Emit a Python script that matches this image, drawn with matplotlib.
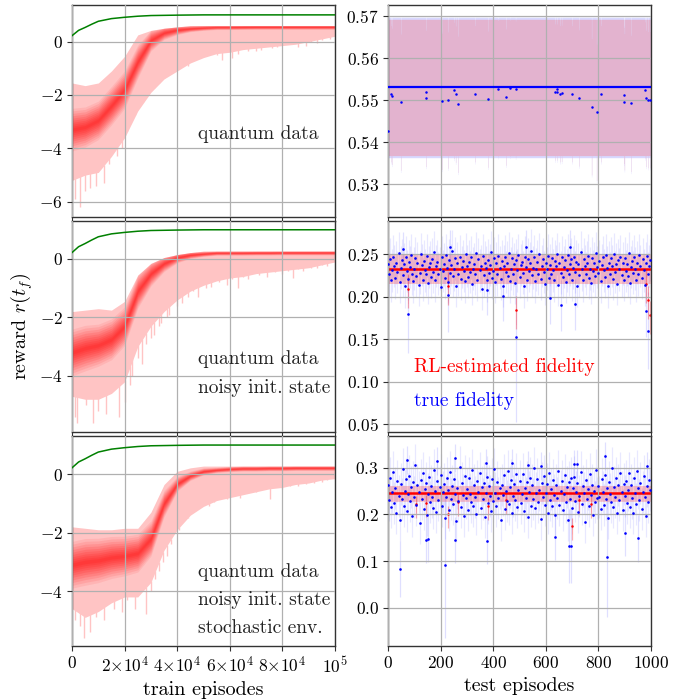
import numpy as np
import matplotlib
matplotlib.use("Agg")
import matplotlib.pyplot as plt

plt.rcParams['font.family'] = 'serif'
plt.rcParams['font.serif'] = ['cmr10']
plt.rcParams['mathtext.fontset'] = 'cm'
plt.rcParams['axes.formatter.use_mathtext'] = True
plt.rcParams['axes.unicode_minus'] = True

# ---------------- training data (left column) ----------------
train_x = [0, 5e3, 10e3, 15e3, 20e3, 25e3, 30e3, 35e3, 40e3, 45e3, 50e3,
           55e3, 60e3, 65e3, 70e3, 75e3, 80e3, 85e3, 90e3, 95e3, 100e3]

green_x = [0, 2.5e3, 5e3, 7.5e3, 10e3, 15e3, 20e3, 25e3, 30e3, 40e3, 50e3, 100e3]
green_y = [0.22, 0.42, 0.53, 0.65, 0.76, 0.86, 0.91, 0.95, 0.975, 0.99, 1.0, 1.0]

# panel 1: quantum data
p1_mid = [-3.3, -3.2, -2.95, -2.4, -1.8, -0.75, 0.05, 0.33, 0.44, 0.49, 0.52,
          0.54, 0.54, 0.545, 0.55, 0.55, 0.55, 0.55, 0.55, 0.55, 0.55]
p1_hw = [0.8, 0.75, 0.72, 0.72, 0.7, 0.62, 0.4, 0.25, 0.18, 0.12, 0.1,
         0.09, 0.09, 0.09, 0.09, 0.09, 0.09, 0.09, 0.09, 0.09, 0.09]
p1_hi = [-1.55, -1.65, -1.55, -1.1, -0.55, 0.25, 0.42, 0.5, 0.55, 0.6, 0.6,
         0.6, 0.6, 0.6, 0.6, 0.6, 0.6, 0.6, 0.6, 0.6, 0.6]
p1_lo = [-5.2, -5.0, -4.9, -4.3, -3.6, -2.6, -1.9, -1.4, -1.1, -0.8, -0.6,
         -0.45, -0.4, -0.3, -0.25, -0.2, -0.15, -0.1, 0.0, 0.1, 0.2]
p1_spk_x = [1e3, 3e3, 5e3, 7e3, 9e3, 12e3, 14e3, 17e3, 19e3, 21e3, 23e3, 24e3,
            26e3, 27e3, 29e3, 31e3, 33e3, 35e3, 37e3, 39e3, 42e3, 44e3, 46e3,
            48e3, 50e3, 52e3, 55e3, 57e3, 59e3, 61e3, 63e3, 65e3, 67e3, 70e3,
            72e3, 74e3, 76e3, 78e3, 81e3, 83e3, 86e3, 89e3, 91e3, 93e3, 95e3, 98e3]
p1_spk_y = [-5.9, -6.2, -5.6, -5.5, -5.4, -5.3, -4.6, -4.3, -4.0, -3.0, -2.8, -2.4,
            -2.2, -2.0, -1.8, -1.6, -1.4, -1.3, -1.1, -1.0, -0.8, -0.9, -0.7,
            -0.6, -0.55, -0.45, -0.5, -0.7, -0.4, -0.6, -0.45, -0.2, -0.35, -0.35,
            -0.3, -0.1, -0.25, -0.2, -0.05, -0.1, -0.2, -0.15, 0.0, -0.05, 0.05, 0.1]

# panel 2: noisy init. state
p2_mid = [-3.2, -3.05, -2.95, -2.75, -2.3, -1.1, -0.5, -0.15, 0.05, 0.14, 0.18,
          0.21, 0.21, 0.21, 0.215, 0.215, 0.22, 0.22, 0.22, 0.22, 0.22]
p2_hw = [0.8, 0.78, 0.72, 0.7, 0.66, 0.58, 0.42, 0.28, 0.18, 0.12, 0.09,
         0.08, 0.08, 0.08, 0.08, 0.08, 0.08, 0.08, 0.08, 0.08, 0.08]
p2_hi = [-1.8, -1.75, -1.7, -1.75, -1.45, -0.55, -0.15, 0.05, 0.15, 0.22, 0.27,
         0.27, 0.27, 0.27, 0.27, 0.27, 0.27, 0.27, 0.27, 0.27, 0.27]
p2_lo = [-4.7, -4.8, -4.8, -4.6, -4.2, -3.0, -2.3, -1.8, -1.4, -1.1, -0.9,
         -0.75, -0.65, -0.6, -0.5, -0.45, -0.4, -0.35, -0.3, -0.2, -0.1]
p2_spk_x = [1e3, 2e3, 5.5e3, 8e3, 10e3, 13e3, 15e3, 18e3, 20e3, 22e3, 23e3, 25e3,
            26.5e3, 28e3, 30e3, 31e3, 33e3, 34e3, 36e3, 37e3, 40e3, 42e3, 44e3,
            46e3, 48e3, 51e3, 53e3, 56e3, 59e3, 61e3, 63e3, 65e3, 67e3, 71e3,
            74e3, 77e3, 80e3, 82e3, 84e3, 86e3, 88e3, 91e3, 93e3, 95e3, 97e3]
p2_spk_y = [-5.4, -5.6, -5.0, -5.6, -5.2, -5.3, -4.5, -5.4, -4.9, -4.3, -4.0, -3.4,
            -3.6, -2.9, -2.7, -2.6, -2.3, -2.2, -2.0, -1.9, -1.6, -1.5, -1.3,
            -1.1, -1.3, -1.0, -0.95, -0.8, -0.9, -0.7, -1.0, -0.6, -0.7, -0.55,
            -0.6, -0.45, -0.5, -0.4, -0.65, -0.35, -0.4, -0.3, -0.3, -0.2, -0.25]

# panel 3: noisy init. state + stochastic env.
p3_mid = [-3.1, -3.0, -2.95, -2.85, -2.8, -2.7, -2.2, -1.0, -0.33, -0.05, 0.1,
          0.15, 0.18, 0.2, 0.2, 0.21, 0.21, 0.22, 0.22, 0.22, 0.22]
p3_hw = [0.8, 0.8, 0.76, 0.72, 0.68, 0.65, 0.6, 0.45, 0.25, 0.16, 0.12,
         0.09, 0.09, 0.09, 0.09, 0.09, 0.09, 0.09, 0.09, 0.09, 0.09]
p3_hi = [-1.8, -1.85, -1.9, -1.9, -1.85, -1.85, -1.3, -0.35, 0.1, 0.22, 0.28,
         0.28, 0.28, 0.28, 0.28, 0.28, 0.28, 0.28, 0.28, 0.28, 0.28]
p3_lo = [-4.6, -4.9, -4.7, -4.4, -4.2, -4.2, -3.7, -2.6, -1.9, -1.4, -1.1,
         -0.9, -0.8, -0.7, -0.6, -0.5, -0.45, -0.35, -0.3, -0.2, -0.15]
p3_spk_x = [1e3, 3e3, 4.5e3, 7e3, 9e3, 12e3, 16e3, 19e3, 21e3, 24e3, 28e3,
            30e3, 31.5e3, 33e3, 34.5e3, 36e3, 37.5e3, 39e3, 40.5e3, 42e3, 44e3,
            46e3, 48e3, 50e3, 52e3, 54e3, 57e3, 59e3, 62e3, 64e3, 67e3, 70e3,
            73e3, 75.3e3, 78e3, 80e3, 83e3, 86e3, 89e3, 92e3, 95e3, 97e3]
p3_spk_y = [-5.0, -5.2, -5.6, -5.4, -4.9, -5.0, -4.6, -4.7, -4.3, -4.6, -4.8,
            -4.0, -3.6, -3.3, -3.0, -2.8, -2.4, -2.0, -1.9, -1.6, -1.5,
            -1.3, -1.2, -1.0, -1.1, -0.95, -0.8, -0.85, -0.7, -0.8, -0.65, -0.6,
            -0.5, -0.85, -0.45, -0.5, -0.4, -0.4, -0.35, -0.3, -0.25, -0.2]

train_panels = [
    (p1_mid, p1_hw, p1_hi, p1_lo, p1_spk_x, p1_spk_y, (-6.57, 1.37), [-6, -4, -2, 0],
     ["quantum data"], [-3.63]),
    (p2_mid, p2_hw, p2_hi, p2_lo, p2_spk_x, p2_spk_y, (-5.92, 1.30), [-4, -2, 0],
     ["quantum data", "noisy init. state"], [-3.61, -4.6]),
    (p3_mid, p3_hw, p3_hi, p3_lo, p3_spk_x, p3_spk_y, (-5.88, 1.31), [-4, -2, 0],
     ["quantum data", "noisy init. state", "stochastic env."], [-3.51, -4.48, -5.45]),
]

train_xticks = [0, 2e4, 4e4, 6e4, 8e4, 1e5]
train_xticklabels = [r'$0$', r'$2{\times}10^{4}$', r'$4{\times}10^{4}$',
                     r'$6{\times}10^{4}$', r'$8{\times}10^{4}$', r'$10^{5}$']

# ---------------- test data (right column) ----------------
n_test = 1000
# panel 1: red and blue fidelity coincide; deviating episodes
t1_level = 0.553
t1_ep = [1, 11, 16, 48, 144, 144, 204, 229, 252, 257, 267, 332, 379, 418, 449,
         464, 485, 635, 644, 644, 654, 660, 700, 727, 774, 793, 810, 896, 899,
         924, 977, 981, 990, 996]
t1_val = [0.5427, 0.5515, 0.5509, 0.5495, 0.5520, 0.5504, 0.5497, 0.5500, 0.5523,
          0.5514, 0.5490, 0.5515, 0.5502, 0.5527, 0.5507, 0.5528, 0.5526, 0.5519,
          0.5519, 0.5527, 0.5515, 0.5516, 0.5515, 0.5505, 0.5484, 0.5471, 0.5515,
          0.5511, 0.5496, 0.5492, 0.5524, 0.5504, 0.5501, 0.5501]
t1_red_err = 0.0162
t1_blue_err = 0.0167

# panel 2
t2_red_level = 0.2324
t2_red_err = 0.017
t2_red_dip_ep = [77, 229, 486, 981, 990, 998]
t2_red_dip_val = [0.209, 0.212, 0.184, 0.215, 0.196, 0.178]
t2_blue = [238,226,244,219,231,247,236,222,240,229,251,217,234,243,225,238,212,246,230,221,241,235,249,227,218,
           233,245,224,239,214,228,250,237,220,242,231,226,248,216,235,240,223,244,229,252,219,236,241,227,233,
           211,246,230,238,222,249,234,217,243,228,237,253,224,232,245,213,239,226,247,221,235,242,230,218,250,
           236,223,241,229,246,215,233,238,227,251,220,244,231,236,209,248,225,240,234,219,243,228,237,252,222,
           230,245,217,239,226,248,234,221,242,213,236,247,229,240,224,251,218,233,245,227,238,216,243,231,249,
           223,237,241,228,212,246,235,220,244,230,239,254,225,234,247,218,232,241,227,250,221,236,244,229,215,
           240,233,248,222,237,226,245,231,219,242,236,250,214,239,228,246,223,235,243,217,231,249,226,238,244,
           220,234,247,229,241,213,238,225,252,232,219,244,236,227,240,248,222,233,216,245,230,239,224,251,235,
           228,242,218,237,246,231,223,249,234,212,240,227,245,236,221,250,229,238,215,243,232,247,225,239,220,
           245,230,238,224,251,216,235,242,228,247,233,219,240,226,249,236,222,244,231,214,239,248,227,236,243]
t2_blue_err = 0.025
t2_out_ep = [77, 229, 486, 990, 981, 657, 712, 616, 439, 375, 236, 525, 692, 58]
t2_out_val = [0.179, 0.202, 0.153, 0.160, 0.183, 0.190, 0.191, 0.198, 0.201, 0.208,
              0.258, 0.258, 0.258, 0.256]
t2_out_err = [0.045, 0.043, 0.10, 0.045, 0.03, 0.03, 0.03, 0.03, 0.03, 0.03,
              0.02, 0.02, 0.02, 0.02]

# panel 3
t3_red_level = 0.245
t3_red_err = 0.017
t3_red_dip_ep = [106, 145, 229, 267, 379, 449, 701, 727, 771]
t3_red_dip_val = [0.222, 0.225, 0.200, 0.227, 0.218, 0.231, 0.175, 0.231, 0.222]
t3_blue = [262,231,278,215,248,290,224,256,203,271,240,188,265,232,297,219,251,276,207,244,283,228,259,196,270,
           237,305,221,262,248,181,274,233,289,212,255,267,199,243,281,226,260,238,214,296,250,205,272,231,258,
           285,219,247,266,192,238,278,252,209,291,234,261,223,275,244,186,257,229,302,216,268,241,197,283,236,
           254,210,279,243,226,295,218,263,237,201,272,249,288,214,258,232,267,194,245,281,225,261,239,207,276,
           229,298,246,217,270,235,256,189,264,242,284,211,250,228,293,222,259,273,204,240,266,231,287,215,252,
           271,224,243,286,208,257,236,269,195,248,279,218,262,234,300,213,245,276,227,253,191,268,238,282,221,
           246,265,203,289,230,255,217,274,241,198,263,236,294,220,251,272,209,243,284,226,258,187,269,233,277,
           214,257,280,229,247,268,206,239,291,222,260,245,183,273,232,255,218,286,241,264,199,250,227,296,235,
           261,238,212,275,249,220,284,233,256,193,270,244,226,299,215,258,237,278,204,262,231,289,247,210,266,
           240,271,225,253,288,216,264,235,202,279,246,223,292,257,230,268,211,249,283,238,196,261,227,274,252]
t3_blue_err = 0.045
t3_out_ep = [46, 217, 831, 145, 153, 375, 255, 689, 696, 635, 901, 952,
             74, 185, 255, 371, 473, 531, 580, 825, 708, 720, 983]
t3_out_val = [0.083, 0.091, 0.108, 0.146, 0.147, 0.144, 0.145, 0.132, 0.132, 0.152,
              0.161, 0.149, 0.316, 0.314, 0.320, 0.311, 0.311, 0.306, 0.304, 0.325,
              0.309, 0.309, 0.304]
t3_out_err = [0.06, 0.155, 0.127, 0.05, 0.05, 0.05, 0.05, 0.08, 0.08, 0.05,
              0.05, 0.05, 0.03, 0.03, 0.03, 0.03, 0.03, 0.03, 0.03, 0.03,
              0.03, 0.03, 0.03]

test_xticks = [0, 200, 400, 600, 800, 1000]

# ---------------- figure ----------------
W, H = 692, 700
fig = plt.figure(figsize=(W / 100, H / 100), dpi=100)

col_left = [72 / W, 388 / W]
col_w = 263 / W
rows = [(5, 217), (221, 432), (436, 646)]

PINK = '#ffc4c4'
GRID = '#b0b0b0'
SPINE = '#333333'


def style(ax):
    for s in ax.spines.values():
        s.set_color(SPINE)
        s.set_linewidth(1.0)
    ax.tick_params(direction='out', length=3.5, width=0.8, color=SPINE,
                   labelsize=12.5, pad=3)
    ax.grid(True, color=GRID, lw=0.9, zorder=2.5)
    ax.set_axisbelow(False)


axes_l, axes_r = [], []
for (top, bot) in rows:
    b = (H - bot) / H
    h = (bot - top) / H
    axes_l.append(fig.add_axes([col_left[0], b, col_w, h]))
    axes_r.append(fig.add_axes([col_left[1], b, col_w, h]))

# left column
core_layers = [(1.0, 0.08), (0.88, 0.09), (0.76, 0.10), (0.65, 0.11), (0.54, 0.11),
               (0.44, 0.12), (0.34, 0.12), (0.25, 0.12), (0.16, 0.12), (0.08, 0.12)]
for ax, (mid, hw, hi, lo, sx, sy, ylim, yt, texts, tys) in zip(axes_l, train_panels):
    mid = np.array(mid); hw = np.array(hw)
    ax.vlines(sx, sy, np.interp(sx, train_x, lo) + 0.05, color=PINK, lw=1.0, zorder=1)
    ax.fill_between(train_x, lo, hi, color=PINK, lw=0, zorder=1)
    for f, a in core_layers:
        ax.fill_between(train_x, np.maximum(mid - f * hw, lo), np.minimum(mid + f * hw, hi),
                        color='red', alpha=a, lw=0, zorder=2)
    ax.plot(green_x, green_y, color='green', lw=1.1, zorder=3)
    ax.set_xlim(0, 1e5)
    ax.set_ylim(*ylim)
    ax.set_yticks(yt)
    ax.set_xticks(train_xticks)
    style(ax)
    for t, ty in zip(texts, tys):
        ax.text(4.78e4, ty, t, fontsize=14, color='#222222', zorder=4)

for ax in axes_l[:2]:
    ax.set_xticklabels([])
axes_l[2].set_xticklabels(train_xticklabels)
axes_l[2].set_xlabel('train episodes', fontsize=14.5, labelpad=4)

# right column
ep_all = np.arange(n_test)

# panel 1
ax = axes_r[0]
v1 = np.full(n_test, t1_level)
for e, v in zip(t1_ep, t1_val):
    v1[e] = min(v1[e], v)
ax.fill_between(ep_all, v1 - t1_blue_err, v1 + t1_blue_err, color='#d8d8ff', lw=0,
                step='mid', zorder=1)
ax.fill_between(ep_all, v1 - t1_red_err, v1 + t1_red_err, color='#e3b3cf', lw=0,
                step='mid', zorder=1.5)
ax.plot(ep_all, np.full(n_test, t1_level), color='blue', lw=1.6, zorder=3)
ax.plot(t1_ep, t1_val, 'o', color='blue', ms=1.8, mew=0, zorder=3)
ax.set_ylim(0.5222, 0.5726)
ax.set_yticks([0.53, 0.54, 0.55, 0.56, 0.57])

# panel 2
ax = axes_r[1]
x2 = np.arange(0, n_test, 4)
b2 = np.array(t2_blue) / 1000.0
ax.vlines(x2, b2 - t2_blue_err, b2 + t2_blue_err, color='#8080ff', alpha=0.18, lw=0.9, zorder=1)
ax.vlines(t2_out_ep, np.array(t2_out_val) - np.array(t2_out_err),
          np.array(t2_out_val) + np.array(t2_out_err), color='#8080ff', alpha=0.25, lw=0.9, zorder=1)
r2 = np.full(n_test, t2_red_level)
for e, v in zip(t2_red_dip_ep, t2_red_dip_val):
    r2[e] = v
ax.fill_between(ep_all, r2 - t2_red_err, r2 + t2_red_err, color='red', alpha=0.22, lw=0,
                step='mid', zorder=1.5)
ax.vlines(t2_red_dip_ep, np.array(t2_red_dip_val) - 0.022, np.array(t2_red_dip_val) + 0.017,
          color='red', alpha=0.3, lw=0.9, zorder=1.5)
ax.plot(ep_all, np.full(n_test, t2_red_level), color='red', lw=1.8, zorder=2)
ax.plot(t2_red_dip_ep, t2_red_dip_val, 'o', color='red', ms=1.8, mew=0, zorder=2)
ax.plot(x2, b2, 'o', color='blue', ms=1.9, mew=0, zorder=3)
ax.plot(t2_out_ep, t2_out_val, 'o', color='blue', ms=1.9, mew=0, zorder=3)
ax.set_ylim(0.041, 0.2888)
ax.set_yticks([0.05, 0.10, 0.15, 0.20, 0.25])
ax.set_yticklabels([r'$0.05$', r'$0.10$', r'$0.15$', r'$0.20$', r'$0.25$'])
ax.text(99, 0.112, 'RL-estimated fidelity', color='red', fontsize=14, zorder=4)
ax.text(99, 0.072, 'true fidelity', color='blue', fontsize=14, zorder=4)

# panel 3
ax = axes_r[2]
x3 = np.arange(0, n_test, 4)
b3 = np.array(t3_blue) / 1000.0
ax.vlines(x3, b3 - t3_blue_err, b3 + t3_blue_err, color='#8080ff', alpha=0.18, lw=0.9, zorder=1)
ax.vlines(t3_out_ep, np.array(t3_out_val) - np.array(t3_out_err),
          np.array(t3_out_val) + np.array(t3_out_err), color='#8080ff', alpha=0.25, lw=0.9, zorder=1)
r3 = np.full(n_test, t3_red_level)
for e, v in zip(t3_red_dip_ep, t3_red_dip_val):
    r3[e] = v
ax.fill_between(ep_all, r3 - t3_red_err, r3 + t3_red_err, color='red', alpha=0.22, lw=0,
                step='mid', zorder=1.5)
ax.vlines(t3_red_dip_ep, np.array(t3_red_dip_val) - 0.03, np.array(t3_red_dip_val) + 0.017,
          color='red', alpha=0.3, lw=0.9, zorder=1.5)
ax.plot(ep_all, np.full(n_test, t3_red_level), color='red', lw=1.8, zorder=2)
ax.plot(t3_red_dip_ep, t3_red_dip_val, 'o', color='red', ms=1.8, mew=0, zorder=2)
ax.plot(x3, b3, 'o', color='blue', ms=1.9, mew=0, zorder=3)
ax.plot(t3_out_ep, t3_out_val, 'o', color='blue', ms=1.9, mew=0, zorder=3)
ax.set_ylim(-0.082, 0.368)
ax.set_yticks([0.0, 0.1, 0.2, 0.3])
ax.set_yticklabels([r'$0.0$', r'$0.1$', r'$0.2$', r'$0.3$'])

for ax in axes_r:
    ax.set_xlim(0, 1000)
    ax.set_xticks(test_xticks)
    style(ax)
for ax in axes_r[:2]:
    ax.set_xticklabels([])
axes_r[2].set_xlabel('test episodes', fontsize=14.5, labelpad=4)

fig.text(0.032, (H - 326) / H, r'reward $r(t_f)$', rotation=90, fontsize=14.5,
         ha='center', va='center')

fig.savefig('out.png', dpi=100)
